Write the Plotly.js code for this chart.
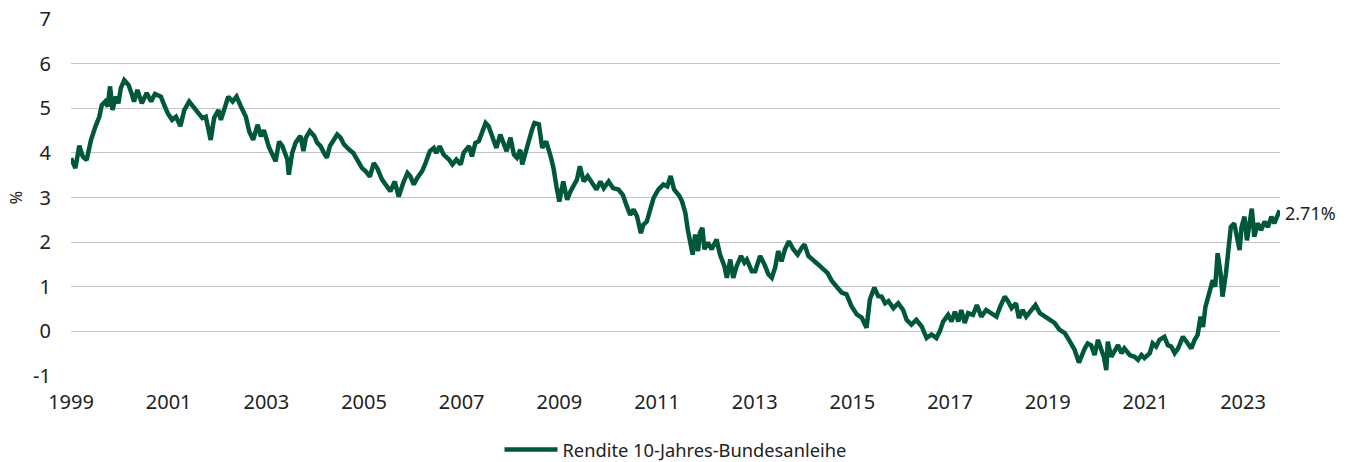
<!DOCTYPE html>
<html>
<head>
<meta charset="utf-8">
<script src="https://cdn.plot.ly/plotly-3.0.1.min.js"></script>
<style>
html,body{margin:0;padding:0;background:#fff;}
#chart{width:1352px;height:462px;}
</style>
</head>
<body>
<div id="chart"></div>
<script>
// Decimal-year positions of the sampled points
const years = [
1999.00,1999.09,1999.17,1999.24,1999.32,1999.41,1999.50,1999.58,1999.63,1999.70,1999.75,1999.80,1999.85,1999.92,1999.97,
2000.02,2000.09,2000.18,2000.25,2000.29,2000.36,2000.45,2000.55,2000.64,2000.72,2000.84,2000.91,2000.98,
2001.07,2001.15,2001.24,2001.32,2001.42,2001.50,2001.59,2001.69,2001.76,2001.86,2001.93,
2002.02,2002.07,2002.13,2002.22,2002.31,2002.39,2002.48,2002.58,2002.65,2002.73,2002.82,2002.89,2002.95,
2003.05,2003.19,2003.26,2003.33,2003.43,2003.46,2003.53,2003.60,2003.67,2003.70,2003.76,2003.81,2003.89,2003.98,
2004.04,2004.11,2004.18,2004.24,2004.30,2004.38,2004.45,2004.52,2004.59,2004.69,2004.78,2004.88,2004.96,
2005.03,2005.12,2005.20,2005.27,2005.37,2005.48,2005.54,2005.63,2005.71,2005.80,2005.89,2005.95,
2006.02,2006.09,2006.19,2006.26,2006.35,2006.43,2006.48,2006.55,2006.63,2006.74,2006.81,2006.89,2006.98,
2007.04,2007.15,2007.21,2007.28,2007.35,2007.42,2007.49,2007.55,2007.62,2007.71,2007.79,2007.85,2007.92,
2008.00,2008.07,2008.13,2008.20,2008.24,2008.30,2008.37,2008.44,2008.49,2008.58,2008.65,2008.73,2008.82,2008.88,2008.94,
2009.00,2009.08,2009.16,2009.23,2009.29,2009.36,2009.42,2009.50,2009.58,2009.67,2009.76,2009.84,2009.91,
2010.01,2010.10,2010.21,2010.30,2010.37,2010.45,2010.52,2010.59,2010.67,2010.72,2010.79,2010.86,2010.93,
2011.03,2011.13,2011.21,2011.28,2011.35,2011.46,2011.51,2011.58,2011.63,2011.68,2011.73,2011.78,2011.84,2011.88,2011.93,2011.97,
2012.04,2012.12,2012.22,2012.29,2012.38,2012.43,2012.50,2012.56,2012.63,2012.72,2012.79,2012.84,2012.94,
2013.01,2013.11,2013.20,2013.28,2013.35,2013.42,2013.48,2013.55,2013.62,2013.70,2013.79,2013.88,2013.96,
2014.02,2014.10,2014.20,2014.30,2014.41,2014.49,2014.58,2014.68,2014.78,2014.88,2014.98,
2015.09,2015.19,2015.29,2015.36,2015.45,2015.53,2015.60,2015.67,2015.74,2015.84,2015.94,
2016.04,2016.11,2016.21,2016.31,2016.42,2016.52,2016.62,2016.72,2016.79,2016.86,2016.96,
2017.03,2017.10,2017.17,2017.23,2017.30,2017.37,2017.47,2017.55,2017.64,2017.74,2017.84,2017.95,
2018.03,2018.12,2018.19,2018.26,2018.35,2018.41,2018.49,2018.56,2018.67,2018.75,2018.84,2018.94,
2019.04,2019.14,2019.24,2019.35,2019.45,2019.55,2019.64,2019.70,2019.76,2019.82,2019.89,2019.96,
2020.03,2020.10,2020.15,2020.20,2020.23,2020.30,2020.37,2020.44,2020.51,2020.57,2020.68,2020.78,2020.85,2020.92,2020.98,
2021.09,2021.15,2021.22,2021.29,2021.39,2021.46,2021.53,2021.60,2021.67,2021.77,2021.84,2021.94,
2022.01,2022.07,2022.13,2022.18,2022.23,2022.28,2022.33,2022.38,2022.43,2022.48,2022.54,2022.58,2022.65,2022.70,2022.75,2022.82,2022.88,2022.93,2022.97,
2023.03,2023.08,2023.13,2023.18,2023.23,2023.30,2023.37,2023.44,2023.51,2023.58,2023.64,2023.70,2023.75
];
// Yield of the 10-year Bund, in %
const yields = [
3.88,3.66,4.16,3.92,3.84,4.29,4.59,4.81,5.07,5.15,5.04,5.49,4.96,5.26,5.11,
5.45,5.63,5.52,5.30,5.15,5.41,5.11,5.34,5.15,5.32,5.26,5.07,4.89,
4.74,4.81,4.60,4.96,5.15,5.04,4.89,4.78,4.81,4.29,4.78,
4.96,4.74,4.96,5.26,5.15,5.26,5.04,4.81,4.48,4.29,4.63,4.37,4.51,
4.14,3.81,4.25,4.15,3.85,3.51,4.00,4.23,4.34,4.38,4.04,4.34,4.49,4.38,
4.23,4.15,4.00,3.89,4.15,4.30,4.41,4.34,4.19,4.08,4.00,3.81,3.66,
3.59,3.47,3.77,3.66,3.40,3.21,3.14,3.36,3.02,3.32,3.55,3.47,
3.29,3.44,3.59,3.77,4.04,4.11,4.00,4.15,3.96,3.85,3.74,3.85,3.74,
4.00,4.15,3.92,4.22,4.26,4.45,4.67,4.60,4.37,4.11,4.41,4.26,4.04,
4.34,3.96,3.89,4.07,3.74,4.00,4.22,4.52,4.67,4.64,4.11,4.26,3.93,3.66,3.25,
2.91,3.36,2.95,3.14,3.25,3.40,3.70,3.36,3.48,3.33,3.18,3.36,3.21,
3.36,3.21,3.18,3.06,2.84,2.61,2.73,2.58,2.20,2.39,2.46,2.69,2.99,
3.18,3.29,3.25,3.48,3.18,3.03,2.92,2.66,2.28,1.99,1.72,2.17,1.80,2.21,2.32,1.84,
1.99,1.84,2.06,1.72,1.46,1.20,1.61,1.20,1.46,1.69,1.54,1.61,1.35,
1.35,1.69,1.50,1.28,1.20,1.43,1.80,1.57,1.84,2.02,1.84,1.72,1.87,
1.95,1.69,1.61,1.50,1.39,1.31,1.13,0.98,0.87,0.83,0.57,
0.38,0.31,0.08,0.72,0.98,0.79,0.78,0.63,0.68,0.52,0.63,
0.48,0.26,0.15,0.26,0.11,-0.15,-0.07,-0.15,0.00,0.22,0.37,
0.22,0.44,0.22,0.48,0.19,0.41,0.37,0.59,0.33,0.48,0.41,0.33,
0.56,0.78,0.67,0.52,0.63,0.30,0.48,0.33,0.48,0.59,0.41,0.33,
0.26,0.19,0.04,-0.04,-0.22,-0.41,-0.70,-0.52,-0.38,-0.27,-0.31,-0.53,
-0.19,-0.42,-0.57,-0.87,-0.23,-0.57,-0.42,-0.31,-0.49,-0.38,-0.53,-0.57,-0.64,-0.53,-0.60,
-0.49,-0.27,-0.34,-0.19,-0.12,-0.31,-0.34,-0.49,-0.38,-0.12,-0.23,-0.38,
-0.19,-0.08,0.33,0.10,0.55,0.78,1.00,1.15,1.00,1.75,1.30,0.78,1.30,1.90,2.34,2.42,2.12,1.82,2.34,
2.57,2.04,2.42,2.75,2.12,2.42,2.27,2.46,2.34,2.57,2.42,2.60,2.71
];
const tickYears = [1999,2001,2003,2005,2007,2009,2011,2013,2015,2017,2019,2021,2023];
const tickLabels = ["1999","2001","2003","2005","2007","2009","2011","2013","2015","2017","2019","2021","2023"];
const yTickVals = [-1,0,1,2,3,4,5,6,7];
const yTickLabels = ["-1","0","1","2","3","4","5","6","7"];
const seriesName = "Rendite 10-Jahres-Bundesanleihe";
const endLabel = "2.71%";
const green = "#00573a";

const trace = {
  x: years, y: yields, type: "scatter", mode: "lines", name: seriesName,
  line: {color: green, width: 4.5}
};

const layout = {
  width: 1352, height: 462,
  margin: {l: 71, r: 72, t: 19, b: 86, autoexpand: false},
  paper_bgcolor: "#fff", plot_bgcolor: "#fff",
  font: {family: "Noto Sans, Open Sans, sans-serif", size: 18, color: "#222"},
  showlegend: true,
  xaxis: {
    range: [1999, 2023.757], tickmode: "array", tickvals: tickYears, ticktext: tickLabels,
    showgrid: false, zeroline: false, showline: false, ticks: "",
    ticklabelstandoff: 12, tickfont: {size: 20, color: "#222"}
  },
  yaxis: {
    range: [-1, 7], tickmode: "array", tickvals: yTickVals, ticktext: yTickLabels,
    showgrid: true, gridcolor: "#c4c4c4", gridwidth: 1,
    zeroline: false, showline: false, ticks: "", ticklabelstandoff: 19,
    tickfont: {size: 20, color: "#222"},
    title: {text: "%", font: {size: 16, color: "#222"}, standoff: 6}
  },
  legend: {
    orientation: "h", x: 0.5, xanchor: "center", y: -0.206, yanchor: "middle",
    font: {size: 18.3, color: "#222"}, itemwidth: 53
  },
  annotations: [{
    x: years[years.length - 1], y: yields[yields.length - 1], xref: "x", yref: "y",
    text: endLabel, showarrow: false, xanchor: "left", yanchor: "middle", xshift: 3, yshift: -3,
    font: {size: 18, color: "#222"}
  }]
};

Plotly.newPlot("chart", [trace], layout, {displayModeBar: false, staticPlot: true});
</script>
</body>
</html>
